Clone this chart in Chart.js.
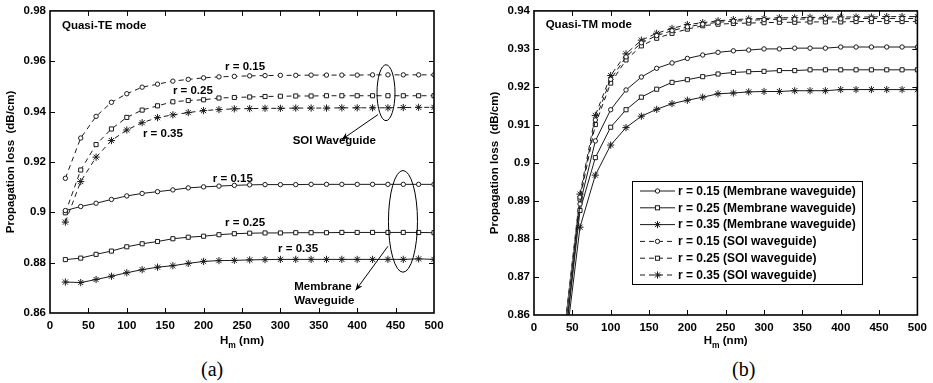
<!DOCTYPE html>
<html>
<head>
<meta charset="utf-8">
<script src="https://cdn.jsdelivr.net/npm/chart.js@4.4.1/dist/chart.umd.min.js"></script>
<style>
  body { margin: 0; background: #fff; width: 933px; height: 383px; position: relative; overflow: hidden; }
  canvas { position: absolute; top: 0; }
  .cap { position: absolute; top: 359px; font-family: "Liberation Serif", "Times New Roman", serif; font-size: 20px; line-height: 20px; color: #000; }
</style>
</head>
<body>
<canvas id="cA" width="465" height="352" style="left:0"></canvas>
<canvas id="cB" width="465" height="352" style="left:468px"></canvas>
<div class="cap" style="left:201px">(a)</div>
<div class="cap" style="left:732px">(b)</div>
<script>
// ---- data (a): quasi-TE mode ----
var hA = [20, 40, 60, 80, 100, 120, 140, 160, 180, 200, 220, 240, 260, 280, 300, 320, 340, 360, 380, 400, 420, 440, 460, 480, 500];
var teMem015 = [0.9007, 0.9023, 0.9036, 0.9051, 0.9065, 0.9075, 0.9082, 0.9089, 0.9097, 0.9101, 0.9104, 0.9107, 0.9109, 0.9110, 0.9110, 0.9110, 0.9111, 0.9111, 0.9111, 0.9111, 0.9111, 0.9111, 0.9111, 0.9111, 0.9111];
var teMem025 = [0.8812, 0.8818, 0.8833, 0.8846, 0.8863, 0.8875, 0.8884, 0.8895, 0.8901, 0.8905, 0.8911, 0.8915, 0.8917, 0.8918, 0.8918, 0.8919, 0.8919, 0.8919, 0.8920, 0.8920, 0.8920, 0.8920, 0.8920, 0.8920, 0.8919];
var teMem035 = [0.8723, 0.8721, 0.8733, 0.8746, 0.8760, 0.8772, 0.8782, 0.8788, 0.8797, 0.8805, 0.8808, 0.8809, 0.8811, 0.8812, 0.8813, 0.8813, 0.8813, 0.8813, 0.8813, 0.8813, 0.8813, 0.8813, 0.8813, 0.8815, 0.8813];
var teSoi015 = [0.9135, 0.9295, 0.9381, 0.9437, 0.9471, 0.9497, 0.9509, 0.9521, 0.9528, 0.9534, 0.9538, 0.9540, 0.9542, 0.9543, 0.9544, 0.9544, 0.9545, 0.9545, 0.9545, 0.9545, 0.9546, 0.9546, 0.9546, 0.9546, 0.9546];
var teSoi025 = [0.8998, 0.9168, 0.9269, 0.9331, 0.9377, 0.9406, 0.9423, 0.9439, 0.9444, 0.9447, 0.9454, 0.9456, 0.9458, 0.9460, 0.9461, 0.9462, 0.9462, 0.9463, 0.9463, 0.9463, 0.9463, 0.9463, 0.9463, 0.9463, 0.9463];
var teSoi035 = [0.8961, 0.9122, 0.9219, 0.9285, 0.9327, 0.9356, 0.9376, 0.9387, 0.9396, 0.9404, 0.9408, 0.9411, 0.9412, 0.9413, 0.9413, 0.9414, 0.9414, 0.9414, 0.9415, 0.9415, 0.9415, 0.9415, 0.9416, 0.9417, 0.9417];

// ---- data (b): quasi-TM mode ----
var hB = [40, 60, 80, 100, 120, 140, 160, 180, 200, 220, 240, 260, 280, 300, 320, 340, 360, 380, 400, 420, 440, 460, 480, 500];
var tmMem015 = [0.8527, 0.8892, 0.9058, 0.9140, 0.9192, 0.9226, 0.9249, 0.9263, 0.9275, 0.9284, 0.9291, 0.9295, 0.9297, 0.9300, 0.9300, 0.9302, 0.9302, 0.9302, 0.9305, 0.9305, 0.9305, 0.9305, 0.9305, 0.9305];
var tmMem025 = [0.8520, 0.8875, 0.9014, 0.9094, 0.9140, 0.9173, 0.9194, 0.9212, 0.9219, 0.9227, 0.9234, 0.9238, 0.9240, 0.9241, 0.9243, 0.9243, 0.9245, 0.9245, 0.9245, 0.9245, 0.9245, 0.9245, 0.9245, 0.9245];
var tmMem035 = [0.8500, 0.8831, 0.8968, 0.9047, 0.9093, 0.9123, 0.9141, 0.9156, 0.9165, 0.9173, 0.9182, 0.9184, 0.9187, 0.9188, 0.9188, 0.9190, 0.9190, 0.9190, 0.9193, 0.9193, 0.9193, 0.9193, 0.9193, 0.9193];
var tmSoi015 = [0.8555, 0.8910, 0.9113, 0.9220, 0.9279, 0.9316, 0.9335, 0.9348, 0.9358, 0.9365, 0.9370, 0.9373, 0.9375, 0.9377, 0.9378, 0.9378, 0.9379, 0.9379, 0.9379, 0.9380, 0.9380, 0.9380, 0.9380, 0.9380];
var tmSoi025 = [0.8560, 0.8905, 0.9101, 0.9210, 0.9271, 0.9308, 0.9328, 0.9341, 0.9352, 0.9361, 0.9365, 0.9367, 0.9368, 0.9369, 0.9370, 0.9370, 0.9371, 0.9371, 0.9371, 0.9372, 0.9372, 0.9372, 0.9372, 0.9372];
var tmSoi035 = [0.8565, 0.8918, 0.9125, 0.9230, 0.9287, 0.9323, 0.9341, 0.9354, 0.9364, 0.9369, 0.9374, 0.9377, 0.9379, 0.9380, 0.9382, 0.9382, 0.9383, 0.9383, 0.9384, 0.9384, 0.9384, 0.9385, 0.9385, 0.9385];

// ---- ticks / labels ----
var xTicks = [0, 50, 100, 150, 200, 250, 300, 350, 400, 450, 500];
var yTicksA = [0.86, 0.88, 0.9, 0.92, 0.94, 0.96, 0.98];
var yTicksB = [0.86, 0.87, 0.88, 0.89, 0.9, 0.91, 0.92, 0.93, 0.94];
var seriesNames = ["r = 0.15 (Membrane waveguide)", "r = 0.25 (Membrane waveguide)", "r = 0.35 (Membrane waveguide)",
                   "r = 0.15 (SOI waveguide)", "r = 0.25 (SOI waveguide)", "r = 0.35 (SOI waveguide)"];

var FONT = '"Liberation Sans", Arial, Helvetica, sans-serif';
Chart.defaults.font.family = FONT;
Chart.defaults.font.size = 11.5;
Chart.defaults.font.weight = 'bold';
Chart.defaults.color = '#000';

var styles = [
  { pointStyle: 'circle', pointRadius: 2.2, dash: [] },
  { pointStyle: 'rect', pointRadius: 2.9, dash: [] },
  { pointStyle: 'star', pointRadius: 3.6, dash: [] },
  { pointStyle: 'circle', pointRadius: 2.2, dash: [5, 4] },
  { pointStyle: 'rect', pointRadius: 2.9, dash: [5, 4] },
  { pointStyle: 'star', pointRadius: 3.6, dash: [5, 4] }
];

function makeSets(xs, arrs) {
  return arrs.map(function (arr, i) {
    var s = styles[i];
    return {
      label: seriesNames[i],
      data: xs.map(function (x, j) { return { x: x, y: arr[j] }; }),
      borderColor: '#1a1a1a',
      borderWidth: 1,
      borderDash: s.dash,
      pointStyle: s.pointStyle,
      pointRadius: s.pointRadius,
      pointBorderWidth: 1,
      pointBorderColor: '#1a1a1a',
      pointBackgroundColor: '#fff',
      tension: 0
    };
  });
}

function mark(ctx, style, x, y, r) {
  ctx.beginPath();
  if (style === 'circle') {
    ctx.arc(x, y, r, 0, Math.PI * 2);
    ctx.fillStyle = '#fff'; ctx.fill(); ctx.stroke();
  } else if (style === 'rect') {
    var s = r * Math.SQRT1_2;
    ctx.fillStyle = '#fff';
    ctx.fillRect(x - s, y - s, 2 * s, 2 * s);
    ctx.strokeRect(x - s, y - s, 2 * s, 2 * s);
  } else {
    for (var k = 0; k < 4; k++) {
      var a = k * Math.PI / 4;
      ctx.moveTo(x + Math.cos(a) * r, y + Math.sin(a) * r);
      ctx.lineTo(x - Math.cos(a) * r, y - Math.sin(a) * r);
    }
    ctx.stroke();
  }
}

var deco = {
  id: 'deco',
  afterDraw: function (chart, args, o) {
    var a = chart.chartArea, ctx = chart.ctx, xs = chart.scales.x, ys = chart.scales.y;
    ctx.save();
    // inner ticks
    ctx.strokeStyle = '#000'; ctx.lineWidth = 1;
    ctx.beginPath();
    xs.ticks.forEach(function (t) {
      var p = Math.round(xs.getPixelForValue(t.value)) + 0.5;
      if (p <= a.left + 2 || p >= a.right - 2) return;
      ctx.moveTo(p, a.bottom); ctx.lineTo(p, a.bottom - 5);
      ctx.moveTo(p, a.top); ctx.lineTo(p, a.top + 5);
    });
    ys.ticks.forEach(function (t) {
      var p = Math.round(ys.getPixelForValue(t.value)) + 0.5;
      if (p <= a.top + 2 || p >= a.bottom - 2) return;
      ctx.moveTo(a.left, p); ctx.lineTo(a.left + 5, p);
      ctx.moveTo(a.right, p); ctx.lineTo(a.right - 5, p);
    });
    ctx.stroke();
    // box
    ctx.lineWidth = 1.6;
    ctx.strokeRect(a.left, a.top, a.right - a.left, a.bottom - a.top);

    // axis titles
    ctx.fillStyle = '#000';
    ctx.font = 'bold 11.5px ' + FONT;
    ctx.textBaseline = 'middle';
    ctx.textAlign = 'center';
    ctx.save();
    ctx.translate(o.yTitleX, (a.top + a.bottom) / 2);
    ctx.rotate(-Math.PI / 2);
    ctx.fillText('Propagation loss  (dB/cm)', 0, 0);
    ctx.restore();

    ctx.textAlign = 'left';
    ctx.textBaseline = 'alphabetic';
    var w1 = ctx.measureText('H').width, w3 = ctx.measureText(' (nm)').width;
    ctx.font = 'bold 8.5px ' + FONT;
    var w2 = ctx.measureText('m').width;
    var x0 = (a.left + a.right) / 2 - (w1 + w2 + w3) / 2, yb = 343.5;
    ctx.font = 'bold 11.5px ' + FONT;
    ctx.fillText('H', x0, yb);
    ctx.font = 'bold 8.5px ' + FONT;
    ctx.fillText('m', x0 + w1, yb + 4);
    ctx.font = 'bold 11.5px ' + FONT;
    ctx.fillText(' (nm)', x0 + w1 + w2, yb);

    // notes in data coordinates
    ctx.textBaseline = 'middle';
    (o.notes || []).forEach(function (n) {
      ctx.fillText(n.t, xs.getPixelForValue(n.x), ys.getPixelForValue(n.y));
    });
    ctx.lineWidth = 1;
    (o.ellipses || []).forEach(function (e) {
      var cx = xs.getPixelForValue(e.x), cy = ys.getPixelForValue(e.y);
      var rx = xs.getPixelForValue(e.x + e.rx) - cx, ry = cy - ys.getPixelForValue(e.y + e.ry);
      ctx.beginPath(); ctx.ellipse(cx, cy, rx, ry, 0, 0, Math.PI * 2); ctx.stroke();
    });
    (o.arrows || []).forEach(function (r) {
      var x1 = xs.getPixelForValue(r.x1), y1 = ys.getPixelForValue(r.y1);
      var x2 = xs.getPixelForValue(r.x2), y2 = ys.getPixelForValue(r.y2);
      var ang = Math.atan2(y2 - y1, x2 - x1);
      ctx.beginPath(); ctx.moveTo(x1, y1); ctx.lineTo(x2, y2); ctx.stroke();
      ctx.beginPath();
      ctx.moveTo(x2, y2);
      ctx.lineTo(x2 - 8 * Math.cos(ang - 0.4), y2 - 8 * Math.sin(ang - 0.4));
      ctx.lineTo(x2 - 5 * Math.cos(ang), y2 - 5 * Math.sin(ang));
      ctx.lineTo(x2 - 8 * Math.cos(ang + 0.4), y2 - 8 * Math.sin(ang + 0.4));
      ctx.closePath(); ctx.fill();
    });

    // in-plot legend
    if (o.legend) {
      var L = o.legend;
      ctx.fillStyle = '#fff';
      ctx.fillRect(L.left, L.top, L.width, L.height);
      ctx.strokeStyle = '#000'; ctx.lineWidth = 1;
      ctx.strokeRect(L.left + 0.5, L.top + 0.5, L.width, L.height);
      ctx.font = 'bold 12px ' + FONT;
      chart.data.datasets.forEach(function (ds, i) {
        var y = L.top + L.first + i * L.step;
        ctx.strokeStyle = '#1a1a1a';
        ctx.setLineDash(ds.borderDash);
        ctx.beginPath(); ctx.moveTo(L.left + 8, y); ctx.lineTo(L.left + 43, y); ctx.stroke();
        ctx.setLineDash([]);
        mark(ctx, ds.pointStyle, L.left + 25.5, y, ds.pointRadius);
        ctx.fillStyle = '#000';
        ctx.fillText(ds.label, L.left + 46, y + 0.5);
      });
    }
    ctx.restore();
  }
};

function makeChart(id, xs, arrs, yTicks, yMin, yMax, box, deco_opts) {
  return new Chart(document.getElementById(id), {
    type: 'line',
    data: { datasets: makeSets(xs, arrs) },
    plugins: [deco],
    options: {
      responsive: false,
      animation: false,
      layout: { padding: { top: box.top, right: box.right, left: 0, bottom: 0 } },
      plugins: { legend: { display: false }, tooltip: { enabled: false }, deco: deco_opts },
      scales: {
        x: {
          type: 'linear', min: 0, max: 500,
          grid: { display: false, drawTicks: false }, border: { display: false },
          afterBuildTicks: function (s) { s.ticks = xTicks.map(function (v) { return { value: v }; }); },
          ticks: { padding: 6, maxRotation: 0, autoSkip: false, callback: function (v) { return String(v); } },
          afterFit: function (s) { s.height = box.xh; }
        },
        y: {
          type: 'linear', min: yMin, max: yMax,
          grid: { display: false, drawTicks: false }, border: { display: false },
          afterBuildTicks: function (s) { s.ticks = yTicks.map(function (v) { return { value: v }; }); },
          ticks: { padding: 4, autoSkip: false, callback: function (v) { return String(parseFloat(v.toFixed(3))); } },
          afterFit: function (s) { s.width = box.yw; }
        }
      }
    }
  });
}

makeChart('cA', hA, [teMem015, teMem025, teMem035, teSoi015, teSoi025, teSoi035], yTicksA, 0.86, 0.98,
  { top: 10, right: 31, xh: 39, yw: 50 },
  {
    yTitleX: 11,
    notes: [
      { t: 'Quasi-TE mode', x: 15.6, y: 0.9740 },
      { t: 'r = 0.15', x: 228, y: 0.9578 },
      { t: 'r = 0.25', x: 160, y: 0.9483 },
      { t: 'r = 0.35', x: 121, y: 0.9312 },
      { t: 'SOI Waveguide', x: 316, y: 0.9285 },
      { t: 'r = 0.15', x: 212, y: 0.9134 },
      { t: 'r = 0.25', x: 228, y: 0.8960 },
      { t: 'r = 0.35', x: 297, y: 0.8853 },
      { t: 'Membrane', x: 318, y: 0.8702 },
      { t: 'Waveguide', x: 318, y: 0.8647 }
    ],
    ellipses: [
      { x: 437.5, y: 0.9475, rx: 11.7, ry: 0.0111 },
      { x: 459.6, y: 0.8964, rx: 18.9, ry: 0.0202 }
    ],
    arrows: [
      { x1: 427, y1: 0.9388, x2: 380, y2: 0.9289 },
      { x1: 440, y1: 0.8865, x2: 398, y2: 0.8690 }
    ]
  });

makeChart('cB', hB, [tmMem015, tmMem025, tmMem035, tmSoi015, tmSoi025, tmSoi035], yTicksB, 0.86, 0.94,
  { top: 9, right: 15, xh: 37, yw: 66 },
  {
    yTitleX: 27,
    notes: [{ t: 'Quasi-TM mode', x: 15.2, y: 0.9363 }],
    legend: { left: 164, top: 181, width: 230, height: 103, first: 10, step: 16.8 }
  });
</script>
</body>
</html>
